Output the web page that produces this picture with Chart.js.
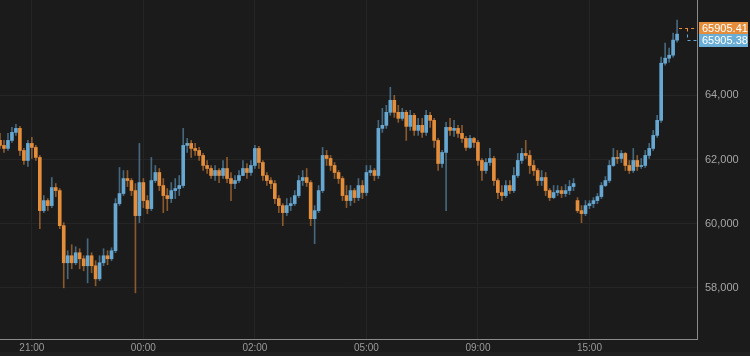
<!DOCTYPE html>
<html><head><meta charset="utf-8">
<script src="https://cdn.jsdelivr.net/npm/chart.js@4/dist/chart.umd.min.js"></script>
<style>html,body{margin:0;padding:0;background:#1b1b1b;overflow:hidden}canvas{display:block}</style>
</head><body>
<canvas id="c" width="750" height="356"></canvas>
<script>
const tickLabels = ['21:00','00:00','02:00','05:00','09:00','15:00'];
const tickIndex = [8,36,64,92,120,148];
const slotCount = 176;
const yTicks = [58000,60000,62000,64000];
const lastAsk = 65905.41;
const lastBid = 65905.38;

const opens = [
62594,62438,62344,62594,62844,62969,62281,61969,62500,62375,
62063,60406,60719,60563,61125,61031,59938,58781,59000,58781,
59094,58906,58688,59000,58688,58281,58781,59000,58906,59156,
60625,60938,61406,61344,61031,60250,61281,60719,60469,61344,
61594,61188,60875,60781,61031,61094,61188,62438,62500,62344,
62281,62125,61813,61719,61500,61656,61500,61719,61406,61250,
61344,61500,61719,61594,61813,62344,61906,61500,61344,61250,
60781,60563,60344,60563,60625,60875,61344,61438,61281,60156,
60406,61031,62125,62031,61813,61594,61406,60875,60719,61031,
60813,61188,60969,61594,61656,61500,62969,63063,63469,63844,
63469,63281,63469,63031,63375,62906,63063,62844,63375,63219,
62594,61875,62219,63000,62906,62969,62813,62656,62375,62656,
62531,61969,61656,61906,62031,61344,60969,60875,61188,61031,
61500,61969,62188,62125,61813,61656,61344,61438,61031,60813,
60969,61031,60938,61031,61156,60719,60406,60313,60563,60625,
60719,60844,61188,61344,61813,62063,62031,62188,61813,61656,
61969,61781,61813,62125,62344,62750,63219,65000,65156,65250,
65719];
const highs = [
62813,62594,62813,63000,63094,63031,62344,62594,62688,62438,
62125,60875,60781,61438,61250,61094,60031,59156,59344,59281,
59219,59000,59531,59094,58844,59000,59219,59156,59250,60781,
61750,61656,61656,61406,61250,62500,61406,60875,62063,61813,
61719,61406,61094,61281,61406,61500,62969,62656,62594,62500,
62375,62188,61969,61813,61813,61719,61969,62063,61594,61500,
61656,61969,61875,61969,62438,62406,61969,61594,61438,61344,
60875,60625,60781,60813,61031,61500,61656,61719,61344,60563,
61188,62375,62281,62125,61906,61656,61469,61188,61188,61094,
61406,61344,61813,61813,61719,63219,63594,63688,64250,64000,
63688,63594,63531,63531,63438,63281,63281,63531,63469,63281,
62656,62281,63156,63281,63219,63063,63063,62719,62750,62688,
62594,62031,62031,62344,62094,61406,61188,61344,61344,61750,
62188,62344,62594,62281,61969,61719,61656,61594,61094,61188,
61188,61156,61219,61344,61406,60813,60563,60719,60719,60813,
60938,61281,61469,61969,62344,62281,62281,62219,61969,62344,
62125,62031,62281,62500,62906,63375,65188,65625,65469,65938,
66344];
const lows = [
62344,62219,62281,62531,62750,62125,61844,61781,62031,61969,
59844,60344,60406,60500,60844,59844,58000,58281,58594,58719,
58594,58531,58156,58469,58063,58219,58688,58719,58844,59094,
60563,60875,61156,60875,57844,60031,60500,60313,60406,61281,
61031,60344,60406,60656,60781,60875,61125,62219,62063,62125,
61969,61656,61563,61406,61344,61281,61406,61281,60719,61094,
61281,61500,61406,61500,61719,61719,61344,61188,61094,60625,
60344,59938,60250,60406,60563,60813,61188,61156,59938,59375,
60344,60969,61813,61656,61406,61250,60719,60500,60563,60656,
60719,60781,60875,61500,61344,61406,62844,62969,63375,63313,
63156,63219,62594,62906,62750,62750,62688,62750,63000,62375,
61656,61750,60406,62750,62719,62688,62531,62281,62344,62375,
61813,61344,61563,61813,61188,60781,60719,60813,60938,60969,
61438,61875,62031,61563,61500,61188,61188,60875,60719,60781,
60875,60813,60844,60906,61031,60344,60031,60250,60469,60500,
60625,60781,61156,61281,61781,61875,61906,61656,61563,61594,
61656,61719,61750,62031,62281,62688,63156,64938,65031,65188,
65656];
const closes = [
62438,62344,62594,62844,62969,62281,61969,62500,62375,62063,
60406,60719,60563,61125,61031,59938,58781,59000,58781,59094,
58906,58688,59000,58688,58281,58781,59000,58906,59156,60625,
60938,61406,61344,61031,60250,61281,60719,60469,61344,61594,
61188,60875,60781,61031,61094,61188,62438,62500,62344,62281,
62125,61813,61719,61500,61656,61500,61719,61406,61250,61344,
61500,61719,61594,61813,62344,61906,61500,61344,61250,60781,
60563,60344,60563,60625,60875,61344,61438,61281,60156,60406,
61031,62125,62031,61813,61594,61406,60875,60719,61031,60813,
61188,60969,61594,61656,61500,62969,63063,63469,63844,63469,
63281,63469,63031,63375,62906,63063,62844,63375,63219,62594,
61875,62219,63000,62906,62969,62813,62656,62375,62656,62531,
61969,61656,61906,62031,61344,60969,60875,61188,61031,61500,
61969,62188,62125,61813,61656,61344,61438,61031,60813,60969,
61031,60938,61031,61156,61250,60406,60313,60563,60625,60719,
60844,61188,61344,61813,62063,62031,62188,61813,61656,61969,
61781,61813,62125,62344,62750,63219,65000,65156,65250,65719,
65905.38];

const UP = '#67a8d2', DOWN = '#e48d3b';
const UPW = 'rgba(103,168,210,0.55)', DOWNW = 'rgba(228,141,59,0.55)';
const labels = Array.from({length: slotCount}, (_, i) => {
  const k = tickIndex.indexOf(i);
  return k >= 0 ? tickLabels[k] : '';
});
const isUp = closes.map((c, i) => c >= opens[i]);
const FONT = '"Liberation Sans", Arial, sans-serif';

const priceTags = {
  id: 'priceTags',
  beforeDraw(chart) {
    const ctx = chart.ctx;
    ctx.save();
    ctx.fillStyle = '#1b1b1b';
    ctx.fillRect(0, 0, chart.width, chart.height);
    ctx.fillStyle = '#202020';
    ctx.fillRect(0, chart.height - 4, chart.width, 4);
    ctx.restore();
  },
  afterDraw(chart) {
    const ctx = chart.ctx;
    const ys = chart.scales.y, xs = chart.scales.x;
    const area = chart.chartArea;
    const py = ys.getPixelForValue(lastBid);
    const oy = Math.round(py - 6) + 0.5, by = Math.round(py + 6) + 0.5;
    const lx = xs.getPixelForValue(closes.length - 1) + 2;
    const vx = area.right - 9.5;
    ctx.save();
    ctx.lineWidth = 1;
    ctx.setLineDash([3, 3]);
    ctx.strokeStyle = DOWN;
    ctx.beginPath(); ctx.moveTo(lx, oy); ctx.lineTo(area.right, oy);
    ctx.moveTo(vx, oy); ctx.lineTo(vx, (oy + by) / 2); ctx.stroke();
    ctx.strokeStyle = UP;
    ctx.beginPath(); ctx.moveTo(vx, (oy + by) / 2); ctx.lineTo(vx, by); ctx.lineTo(area.right, by); ctx.stroke();
    ctx.setLineDash([]);
    const bx = area.right + 2, bw = 49, bh = 13;
    ctx.fillStyle = DOWN;
    ctx.fillRect(bx, oy - 6.5, bw, bh);
    ctx.fillStyle = '#6aaed8';
    ctx.fillRect(bx, by - 6.5, bw, bh);
    ctx.fillStyle = '#ffffff';
    ctx.font = '11px ' + FONT;
    ctx.textBaseline = 'middle';
    ctx.textAlign = 'left';
    ctx.fillText(lastAsk.toFixed(2), bx + 3, oy + 0.5);
    ctx.fillText(lastBid.toFixed(2), bx + 3, by + 0.5);
    ctx.restore();
  }
};

function noPad(s) {
  s.paddingTop = 0; s.paddingBottom = 0; s.paddingLeft = 0; s.paddingRight = 0;
}

new Chart(document.getElementById('c'), {
  type: 'bar',
  data: {
    labels: labels,
    datasets: [
      {
        data: lows.map((l, i) => [l, highs[i]]),
        backgroundColor: isUp.map(u => u ? UPW : DOWNW),
        barThickness: 1,
        grouped: false,
        order: 2,
        borderWidth: 0
      },
      {
        data: opens.map((o, i) => [o, closes[i]]),
        backgroundColor: isUp.map(u => u ? UP : DOWN),
        barThickness: 3,
        minBarLength: 1,
        grouped: false,
        order: 1,
        borderWidth: 0
      }
    ]
  },
  options: {
    responsive: false,
    animation: false,
    devicePixelRatio: 1,
    layout: { padding: 0 },
    plugins: { legend: { display: false }, tooltip: { enabled: false } },
    scales: {
      x: {
        type: 'category',
        offset: false,
        grid: {
          offset: false,
          drawTicks: false,
          color: ctx => tickIndex.includes(ctx.index) ? '#252525' : 'rgba(0,0,0,0)'
        },
        border: { color: '#8a8a8a' },
        ticks: {
          autoSkip: false, maxRotation: 0, minRotation: 0,
          padding: 3, color: '#9a9a9a',
          font: { size: 10, family: FONT }
        },
        afterFit: s => { s.height = 17; noPad(s); }
      },
      y: {
        position: 'right',
        min: 56406,
        max: 66969,
        afterBuildTicks: s => { s.ticks = yTicks.map(v => ({ value: v })); },
        grid: { drawTicks: false, color: '#252525' },
        border: { color: '#8a8a8a' },
        ticks: {
          padding: 8, color: '#a5a5a5',
          font: { size: 11, family: FONT },
          callback: v => v.toLocaleString('en-US')
        },
        afterFit: s => { s.width = 53; noPad(s); }
      }
    }
  },
  plugins: [priceTags]
});
</script>
</body></html>
